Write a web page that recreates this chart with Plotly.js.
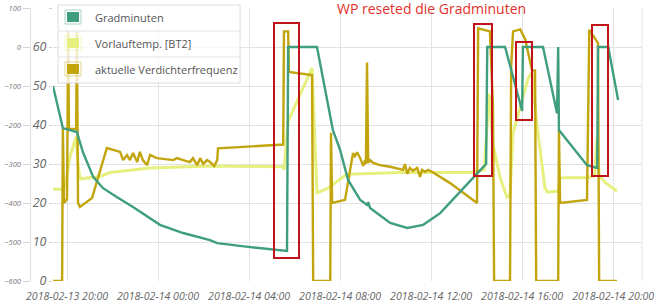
<!DOCTYPE html>
<html>
<head>
<meta charset="utf-8">
<script src="https://cdn.plot.ly/plotly-3.0.1.min.js"></script>
<style>html,body{margin:0;padding:0;background:#fff;}#chart{width:660px;height:302px;}</style>
</head>
<body>
<div id="chart"></div>
<script>
// ---- Data ----
const seriesNames = ["Gradminuten", "Vorlauftemp. [BT2]", "aktuelle Verdichterfrequenz"];
const xTickLabelsFormat = "%Y-%m-%d %H:%M";
const annotationText = "WP reseted die Gradminuten";

// Gradminuten (right-hand scale: -600 .. 100)
const gradTimes = [
 "2018-02-13 19:23","2018-02-13 19:49","2018-02-13 20:26","2018-02-13 20:42","2018-02-13 21:09",
 "2018-02-13 21:35","2018-02-13 22:12","2018-02-13 22:54","2018-02-14 00:05","2018-02-14 01:06",
 "2018-02-14 02:17","2018-02-14 02:36","2018-02-14 04:03","2018-02-14 05:40","2018-02-14 05:43",
 "2018-02-14 06:59","2018-02-14 07:41","2018-02-14 08:00","2018-02-14 08:21","2018-02-14 08:53",
 "2018-02-14 09:11","2018-02-14 09:14","2018-02-14 09:19","2018-02-14 10:12","2018-02-14 10:57",
 "2018-02-14 11:39","2018-02-14 12:24","2018-02-14 13:08","2018-02-14 13:51","2018-02-14 14:17",
 "2018-02-14 14:25","2018-02-14 14:28","2018-02-14 15:15","2018-02-14 16:00","2018-02-14 16:02",
 "2018-02-14 16:55","2018-02-14 17:32","2018-02-14 17:35","2018-02-14 17:37","2018-02-14 18:51",
 "2018-02-14 19:18","2018-02-14 19:20","2018-02-14 19:47","2018-02-14 20:13"];
const gradValues = [
 -100,-208,-218,-270,-333,
 -362,-385,-410,-456,-477,
 -495,-503,-513,-523,0,
 0,-213,-264,-341,-392,
 -405,-398,-413,-451,-464,
 -456,-426,-379,-333,-308,
 -300,0,0,-164,0,
 0,-170,0,-213,-303,
 -310,0,0,-136];

// Vorlauftemp. [BT2] (left scale 0..70)
const vorTimes = [
 "2018-02-13 19:23","2018-02-13 19:47","2018-02-13 19:55","2018-02-13 20:08","2018-02-13 20:24",
 "2018-02-13 20:29","2018-02-13 20:34","2018-02-13 21:27","2018-02-13 21:53","2018-02-13 23:39",
 "2018-02-14 02:17","2018-02-14 05:30","2018-02-14 05:32","2018-02-14 05:43","2018-02-14 06:46",
 "2018-02-14 06:59","2018-02-14 07:28","2018-02-14 08:18","2018-02-14 10:38","2018-02-14 13:43",
 "2018-02-14 14:20","2018-02-14 14:33","2018-02-14 14:43","2018-02-14 15:02","2018-02-14 15:20",
 "2018-02-14 15:28","2018-02-14 15:36","2018-02-14 16:16","2018-02-14 16:26","2018-02-14 16:39",
 "2018-02-14 17:00","2018-02-14 17:06","2018-02-14 17:35","2018-02-14 17:40","2018-02-14 18:51",
 "2018-02-14 19:11","2018-02-14 19:18","2018-02-14 19:23","2018-02-14 19:42","2018-02-14 20:10"];
const vorValues = [
 23.5,23.5,24,32,37,
 30,26.2,26.8,27.8,29,
 29.5,29.3,28.5,41,54.6,
 22.6,23.8,27.4,27.8,27.8,
 28.5,48,35,26.5,21.5,
 22,38,52,53.6,40,
 24,22.8,23,26.5,26.5,
 27,37,27,25,23];

// aktuelle Verdichterfrequenz (left scale 0..70)
const vdfTimes = [
 "2018-02-13 19:23","2018-02-13 19:47","2018-02-13 19:49","2018-02-13 19:52","2018-02-13 20:00",
 "2018-02-13 20:03","2018-02-13 20:05","2018-02-13 20:24","2018-02-13 20:26","2018-02-13 20:29",
 "2018-02-13 20:34","2018-02-13 21:06","2018-02-13 21:45","2018-02-13 22:20","2018-02-13 22:28",
 "2018-02-13 22:38","2018-02-13 22:46","2018-02-13 22:54","2018-02-13 23:05","2018-02-13 23:12",
 "2018-02-13 23:20","2018-02-13 23:31","2018-02-13 23:39","2018-02-13 23:57","2018-02-14 00:40",
 "2018-02-14 00:50","2018-02-14 01:06","2018-02-14 01:24","2018-02-14 01:32","2018-02-14 01:43",
 "2018-02-14 01:51","2018-02-14 01:59","2018-02-14 02:09","2018-02-14 02:17","2018-02-14 02:28",
 "2018-02-14 02:36","2018-02-14 02:38","2018-02-14 04:03","2018-02-14 05:30","2018-02-14 05:32",
 "2018-02-14 05:43","2018-02-14 05:45","2018-02-14 06:46","2018-02-14 06:49","2018-02-14 07:34",
 "2018-02-14 07:36","2018-02-14 07:39","2018-02-14 08:13","2018-02-14 08:34","2018-02-14 08:39",
 "2018-02-14 08:45","2018-02-14 08:53","2018-02-14 09:01","2018-02-14 09:06","2018-02-14 09:08",
 "2018-02-14 09:11","2018-02-14 09:14","2018-02-14 09:19","2018-02-14 09:27","2018-02-14 09:45",
 "2018-02-14 10:12","2018-02-14 10:46","2018-02-14 10:51","2018-02-14 10:57","2018-02-14 11:04",
 "2018-02-14 11:12","2018-02-14 11:23","2018-02-14 11:31","2018-02-14 11:36","2018-02-14 11:44",
 "2018-02-14 11:52","2018-02-14 12:02","2018-02-14 12:50","2018-02-14 14:01","2018-02-14 14:04",
 "2018-02-14 14:35","2018-02-14 14:43","2018-02-14 14:46","2018-02-14 15:28","2018-02-14 15:31",
 "2018-02-14 15:36","2018-02-14 15:55","2018-02-14 16:08","2018-02-14 16:26","2018-02-14 16:34",
 "2018-02-14 16:37","2018-02-14 17:35","2018-02-14 17:37","2018-02-14 17:40","2018-02-14 18:51",
 "2018-02-14 18:57","2018-02-14 19:20","2018-02-14 19:23","2018-02-14 20:10"];
const vdfValues = [
 0,0,39,20,21,
 64,39,39,64,20,
 19,21.3,34.1,33.1,31,
 32.3,31,32.8,30.5,33.1,
 31,29.7,32.3,31.5,31,
 31.5,31,30.5,31.5,29.7,
 31.5,30,31,30.5,29.5,
 31,34,34.5,35,64,
 64,53.6,52.8,0,0,
 38,20,20.8,32.8,32,
 33,31.5,29.5,31,30,
 56,30.3,31,30.3,29.7,
 29.3,28.5,30,27.5,29,
 28.3,29,26.7,28.5,28,
 28.5,28,25.1,20,64.8,
 64,45,0,0,55,
 64,64.5,62,54,54,
 0,0,38.7,20,20.8,
 64.4,61,0,0];

const colors = ["#3f9e7e", "#e6f07e", "#c2a40c"];

// ---- Layout helpers (pixel -> paper) ----
const W = 660, H = 302, MT = 8, MB = 21;
const PH = H - MT - MB;
const px = x => x / W;
const py = y => (H - MB - y) / PH;

const traces = [
  {x: gradTimes, y: gradValues, name: seriesNames[0], type: "scatter", mode: "lines", yaxis: "y2",
   line: {color: colors[0], width: 2.4}},
  {x: vorTimes, y: vorValues, name: seriesNames[1], type: "scatter", mode: "lines", yaxis: "y",
   line: {color: colors[1], width: 3}},
  {x: vdfTimes, y: vdfValues, name: seriesNames[2], type: "scatter", mode: "lines", yaxis: "y",
   line: {color: colors[2], width: 2.4}}
];

const shapes = [];
const annotations = [];

// right border of plot
shapes.push({type: "line", xref: "paper", yref: "paper", x0: px(642), x1: px(642), y0: 0, y1: 1,
  line: {color: "#e3e3e3", width: 1}});

// custom legend box
shapes.push({type: "rect", xref: "paper", yref: "paper", x0: px(58), x1: px(240), y0: py(83), y1: py(5),
  fillcolor: "rgba(255,255,255,0.78)", line: {color: "#dcdcdc", width: 1}, layer: "above"});
[31, 57].forEach(yy => shapes.push({type: "line", xref: "paper", yref: "paper", x0: px(58), x1: px(240),
  y0: py(yy), y1: py(yy), line: {color: "#e2e2e2", width: 1}, layer: "above"}));
const rowCenters = [17, 43, 69];
seriesNames.forEach((nm, i) => {
  const c = rowCenters[i];
  shapes.push({type: "rect", xref: "paper", yref: "paper", x0: px(65), x1: px(81), y0: py(c + 7), y1: py(c - 7),
    fillcolor: "rgba(255,255,255,0)", line: {color: colors[i], width: 1}, opacity: 0.45, layer: "above"});
  shapes.push({type: "rect", xref: "paper", yref: "paper", x0: px(67), x1: px(79), y0: py(c + 5), y1: py(c - 5),
    fillcolor: colors[i], line: {width: 0}, layer: "above"});
  annotations.push({text: nm, xref: "paper", yref: "paper", x: px(93), y: py(c), xanchor: "left", yanchor: "middle",
    showarrow: false, font: {family: "Open Sans", size: 11, color: "#555"}});
});

// red highlight boxes (overlay annotation of the original)
[[274, 23, 299, 258], [474, 24, 492, 176], [516, 42, 532, 120], [592, 25, 608, 176]].forEach(b => {
  shapes.push({type: "rect", xref: "paper", yref: "paper", x0: px(b[0]), x1: px(b[2]), y0: py(b[3]), y1: py(b[1]),
    line: {color: "#c0141a", width: 2}, fillcolor: "rgba(0,0,0,0)", layer: "above"});
});
annotations.push({text: annotationText, xref: "paper", yref: "paper", x: px(431), y: py(9),
  xanchor: "center", yanchor: "middle", showarrow: false,
  font: {family: "Open Sans", size: 14, color: "#e3302c"}});

const layout = {
  width: W, height: H,
  margin: {l: 0, r: 0, t: MT, b: MB, pad: 0},
  paper_bgcolor: "#fff", plot_bgcolor: "#fff",
  showlegend: false,
  xaxis: {
    type: "date", domain: [53 / W, 642 / W],
    range: ["2018-02-13 19:23", "2018-02-14 21:16"],
    tick0: "2018-02-13 20:00", dtick: 4 * 3600 * 1000, tickformat: xTickLabelsFormat,
    showgrid: true, gridcolor: "#e3e3e3", gridwidth: 1, zeroline: false, showline: false,
    ticks: "outside", ticklen: 5, tickcolor: "rgba(0,0,0,0)",
    tickfont: {family: "Open Sans", size: 10.6, color: "#666", style: "italic"}
  },
  yaxis: {
    range: [0, 70], dtick: 10, tick0: 0,
    showgrid: true, gridcolor: "#e3e3e3", zeroline: false, showline: false,
    ticks: "outside", ticklen: 3, tickcolor: "#d0d0d0",
    tickfont: {family: "Open Sans", size: 12.5, color: "#666", style: "italic"}
  },
  yaxis2: {
    overlaying: "y", anchor: "free", position: 29.5 / W, side: "left",
    range: [-600, 100], dtick: 100, tick0: 0,
    showgrid: false, zeroline: false, showline: true, linecolor: "#e0e0e0", linewidth: 1,
    ticks: "outside", ticklen: 7, tickcolor: "#d6d6d6",
    tickfont: {family: "Open Sans", size: 7.5, color: "#777", style: "italic"}
  },
  shapes: shapes,
  annotations: annotations
};

Plotly.newPlot("chart", traces, layout, {displayModeBar: false, staticPlot: true});
</script>
</body>
</html>
